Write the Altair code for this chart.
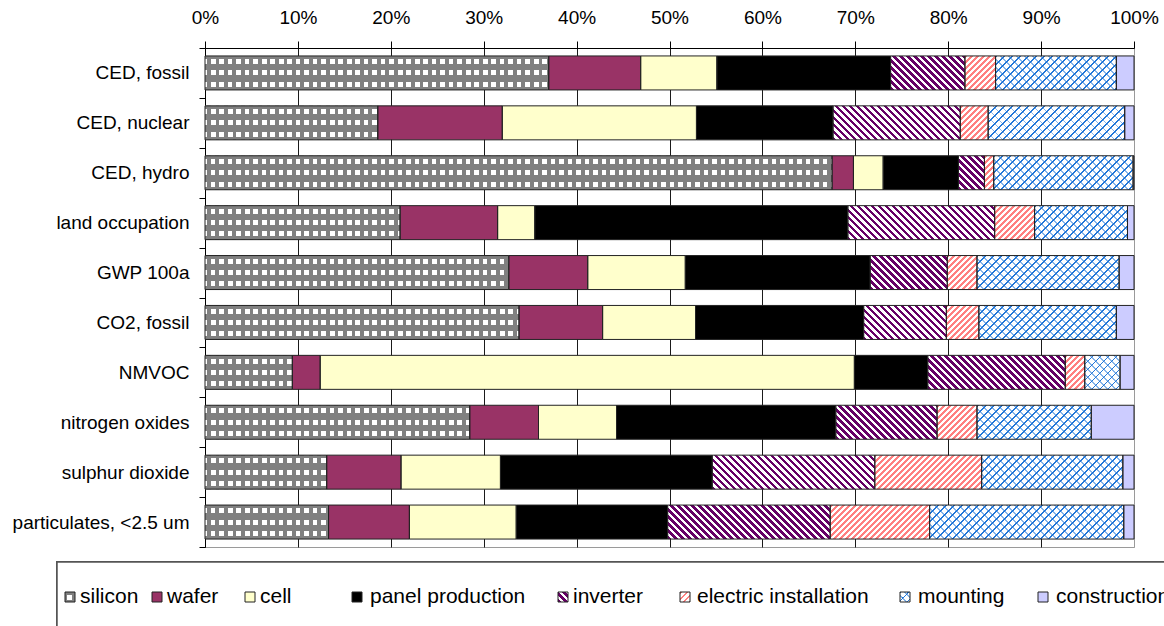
import altair as alt

# Impact categories (rows, top to bottom)
CATEGORIES = [
    "CED, fossil", "CED, nuclear", "CED, hydro", "land occupation", "GWP 100a",
    "CO2, fossil", "NMVOC", "nitrogen oxides", "sulphur dioxide", "particulates, <2.5 um",
]

# Life-cycle stages (stack order, left to right)
STAGES = ["silicon", "wafer", "cell", "panel production", "inverter",
          "electric installation", "mounting", "construction"]

# Share of each stage in every impact category, in percent
SILICON = [37.0, 18.6, 67.5, 21.0, 32.7, 33.8, 9.4, 28.5, 13.1, 13.3]
WAFER = [9.9, 13.4, 2.3, 10.5, 8.5, 9.0, 3.0, 7.4, 8.0, 8.7]
CELL = [8.2, 20.9, 3.2, 4.0, 10.5, 10.0, 57.5, 8.4, 10.7, 11.5]
PANEL = [18.7, 14.7, 8.1, 33.7, 19.9, 18.1, 7.9, 23.6, 22.8, 16.3]
INVERTER = [8.0, 13.7, 2.8, 15.8, 8.3, 8.9, 14.8, 10.9, 17.5, 17.5]
ELECTRIC = [3.3, 3.0, 1.0, 4.3, 3.2, 3.5, 2.1, 4.3, 11.5, 10.7]
MOUNTING = [13.0, 14.7, 15.0, 10.0, 15.3, 14.8, 3.8, 12.3, 15.2, 20.9]
CONSTRUCTION = [1.9, 1.0, 0.1, 0.7, 1.6, 1.9, 1.5, 4.6, 1.2, 1.1]

SERIES = [SILICON, WAFER, CELL, PANEL, INVERTER, ELECTRIC, MOUNTING, CONSTRUCTION]

# ---- layout -------------------------------------------------------------
CANVAS_W, CANVAS_H = 1164, 626
LEFT, TOP = 205, 48
PLOT_W, PLOT_H = 929, 499
BAR_H = 34
FONT = "Liberation Sans"

LEGEND_SQUARE_LEFT = [65, 152, 245, 352, 558, 680, 900, 1038]
LEGEND_TEXT_LEFT = [80, 167, 260, 370, 573, 697, 918, 1056]
LEGEND_Y = 597
LEGEND_BOX = (57, 562)

CLEAR = "rgba(0,0,0,0)"
GRAY = "#808080"


# ---- hatch fills built from linear gradients with hard stops ------------
def band_stops(length, segments, phase=0.0):
    stops = []
    s = -phase
    while s < length:
        for seg_len, col in segments:
            q0, q1 = max(s, 0.0), min(s + seg_len, length)
            if q1 > q0:
                stops.append({"offset": round(q0 / length, 5), "color": col})
                stops.append({"offset": round(q1 / length, 5), "color": col})
            s += seg_len
    return stops


def hatch(w, h, kind, segments, phase=0.0):
    w = max(w, 0.5)
    if kind in ("/", "\\"):
        length = w + h
        c = length / (w * w + h * h)
        if kind == "/":
            x1, y1, x2, y2 = 0, 0, c * w, c * h
        else:
            x1, y1, x2, y2 = 0, 1, c * w, 1 - c * h
    elif kind == "|":
        length = w
        x1, y1, x2, y2 = 0, 0, 1, 0
    else:
        length = h
        x1, y1, x2, y2 = 0, 0, 0, 1
    return {
        "gradient": "linear",
        "x1": round(x1, 6), "y1": round(y1, 6), "x2": round(x2, 6), "y2": round(y2, 6),
        "stops": band_stops(length, segments, phase),
    }


def stage_fill(stage, w, h, legend=False):
    """Return (under, over) fills for one stage of width w and height h."""
    if stage == "silicon":
        if legend:
            cols = [(2.5, GRAY), (5, "#ffffff"), (2.5, GRAY)]
            rows = [(2.5, GRAY), (5, CLEAR), (2.5, GRAY)]
        else:
            p = h / 3.0
            cols = [(2.0, "#ffffff"), (3.7, GRAY), (2.8, "#ffffff")]
            rows = [((p - 5.0) / 2, GRAY), (5.0, CLEAR), ((p - 5.0) / 2, GRAY)]
        return hatch(w, h, "|", cols), hatch(w, h, "-", rows)
    if stage == "wafer":
        return "#993366", CLEAR
    if stage == "cell":
        return "#FFFFCC", CLEAR
    if stage == "panel production":
        return "#000000", CLEAR
    if stage == "inverter":
        return hatch(w, h, "\\", [(3.6, "#660066"), (3.4, "#ffffff")]), CLEAR
    if stage == "electric installation":
        return hatch(w, h, "/", [(2.9, "#FF8080"), (3.1, "#ffffff")]), CLEAR
    if stage == "mounting":
        under = hatch(w, h, "/", [(1.8, "#2277D8"), (6.2, "#ffffff")])
        over = hatch(w, h, "\\", [(1.6, "rgba(34,119,216,0.55)"), (6.4, CLEAR)], phase=2)
        return under, over
    return "#CCCCFF", CLEAR


# ---- stacked segments -----------------------------------------------------
records = []
for i, cat in enumerate(CATEGORIES):
    total = sum(s[i] for s in SERIES)
    acc = 0.0
    for stage, series in zip(STAGES, SERIES):
        v = series[i] / total
        start, end = acc, acc + v
        acc = end
        under, over = stage_fill(stage, v * PLOT_W, BAR_H)
        records.append({"category": cat, "stage": stage, "start": start, "end": end,
                        "fillA": under, "fillB": over})

grid_color = {"condition": {"test": "datum.value >= 1", "value": "#9a9a9a"}, "value": "#1a1a1a"}

x_axis = alt.Axis(
    orient="top", format=".0%", values=[k / 10 for k in range(11)], title=None,
    tickSize=7, labelPadding=14, labelFlush=False, labelOverlap=False,
    grid=True, gridColor=grid_color, gridWidth=1,
)
y_axis = alt.Axis(title=None, tickBand="extent", tickSize=6, labelPadding=10, grid=False)

x_enc = alt.X("start:Q", scale=alt.Scale(domain=[0, 1], nice=False, zero=False), axis=x_axis)
x2_enc = alt.X2("end:Q")
y_enc = alt.Y("category:N", sort=CATEGORIES,
              scale=alt.Scale(paddingInner=0, paddingOuter=0), axis=y_axis)

bars = alt.Data(values=records)
under_layer = alt.Chart(bars).mark_bar(size=BAR_H, strokeWidth=0).encode(
    x=x_enc, x2=x2_enc, y=y_enc, fill=alt.Fill("fillA:N", scale=None, legend=None),
)
over_layer = alt.Chart(bars).mark_bar(size=BAR_H, stroke="#222222", strokeWidth=1).encode(
    x=x_enc, x2=x2_enc, y=y_enc, fill=alt.Fill("fillB:N", scale=None, legend=None),
)

# ---- legend (drawn in the bottom padding area) ----------------------------
legend_records = []
for stage, sq_left, tx_left in zip(STAGES, LEGEND_SQUARE_LEFT, LEGEND_TEXT_LEFT):
    under, over = stage_fill(stage, 10, 10, legend=True)
    legend_records.append({
        "stage": stage, "sx": sq_left + 5 - LEFT, "tx": tx_left - LEFT,
        "fillA": under, "fillB": over,
    })
legend_data = alt.Data(values=legend_records)
ly = LEGEND_Y - TOP

legend_box = alt.Chart(legend_data).mark_rect(fill="#ffffff", stroke="#555555", strokeWidth=1.5).encode(
    x=alt.value(LEGEND_BOX[0] - LEFT), x2=alt.value(CANVAS_W + 100 - LEFT),
    y=alt.value(LEGEND_BOX[1] - TOP), y2=alt.value(CANVAS_H + 100 - TOP),
)
legend_sq_under = alt.Chart(legend_data).mark_square(size=100, opacity=1, strokeWidth=0).encode(
    x=alt.X("sx:Q", scale=None), y=alt.value(ly),
    fill=alt.Fill("fillA:N", scale=None, legend=None),
)
legend_sq_over = alt.Chart(legend_data).mark_square(size=100, opacity=1, stroke="#222222", strokeWidth=1).encode(
    x=alt.X("sx:Q", scale=None), y=alt.value(ly),
    fill=alt.Fill("fillB:N", scale=None, legend=None),
)
legend_text = alt.Chart(legend_data).mark_text(
    align="left", baseline="middle", font=FONT, fontSize=21, color="#000000",
).encode(x=alt.X("tx:Q", scale=None), y=alt.value(ly), text="stage:N")

chart = (
    alt.layer(under_layer, over_layer, legend_box, legend_sq_under, legend_sq_over, legend_text)
    .properties(
        width=PLOT_W, height=PLOT_H,
        autosize=alt.AutoSizeParams(type="none"),
        padding={"left": LEFT, "top": TOP, "right": CANVAS_W - LEFT - PLOT_W,
                 "bottom": CANVAS_H - TOP - PLOT_H},
        background="#ffffff",
    )
    .configure_view(stroke="#9a9a9a", strokeWidth=1)
    .configure_axis(
        labelFont=FONT, labelFontSize=19, labelColor="#000000",
        domainColor="#000000", domainWidth=1, tickColor="#000000", tickWidth=1,
    )
)

chart.save("out.html", embed_options={"renderer": "svg", "actions": False})
